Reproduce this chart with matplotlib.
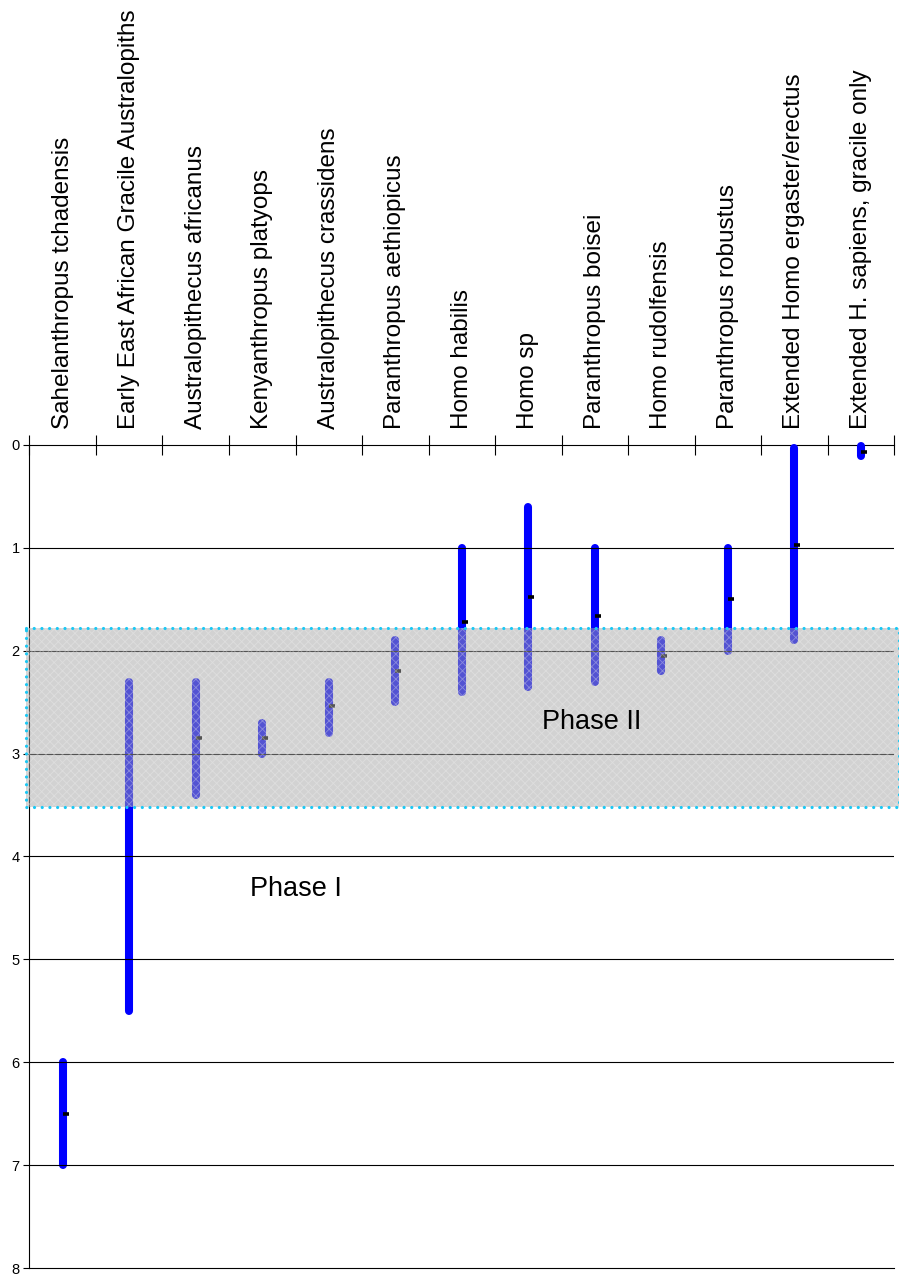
import numpy as np
import matplotlib
matplotlib.use('Agg')
import matplotlib.pyplot as plt
from matplotlib.patches import Rectangle

plt.rcParams['font.family'] = ['Liberation Sans', 'DejaVu Sans']

# ── Data (million years ago) ─────────────────────────────────────────────────
species = ['Sahelanthropus tchadensis',
           'Early East African Gracile Australopiths',
           'Australopithecus africanus',
           'Kenyanthropus platyops',
           'Australopithecus crassidens',
           'Paranthropus aethiopicus',
           'Homo habilis',
           'Homo sp',
           'Paranthropus boisei',
           'Homo rudolfensis',
           'Paranthropus robustus',
           'Extended Homo ergaster/erectus',
           'Extended H. sapiens, gracile only']
start_ma = [7.0, 5.5, 3.4, 3.0, 2.8, 2.5, 2.4, 2.35, 2.3, 2.2, 2.0, 1.9, 0.11]
end_ma   = [6.0, 2.3, 2.3, 2.7, 2.3, 1.9, 1.0, 0.6, 1.0, 1.9, 1.0, 0.03, 0.01]
mid_ma   = [6.5, np.nan, 2.85, 2.85, 2.54, 2.2, 1.72, 1.48, 1.66, 2.05, 1.5, 0.97, 0.07]

phase2_top, phase2_bottom = 1.78, 3.52
yticks = list(range(0, 9))

# ── Plot ─────────────────────────────────────────────────────────────────────
fig = plt.figure(figsize=(8.99, 12.79), dpi=100)
ax = fig.add_axes([0.0328, 0.0086, 0.9617, 0.6435])

x = np.arange(len(species))
ax.vlines(x, start_ma, end_ma, color='#0000ff', linewidth=5.8,
          capstyle='round', zorder=3, clip_on=False)
ax.plot(x + 0.045, mid_ma, linestyle='none', marker='_', markersize=5,
        markeredgewidth=2.6, color='black', zorder=4, clip_on=False)

# Phase II band (covers the bars so they look stippled)
band_kw = dict(xy=(-0.555, phase2_top), width=13.13,
               height=phase2_bottom - phase2_top, clip_on=False)
ax.add_patch(Rectangle(facecolor='#a6a6a6', alpha=0.5, linewidth=0,
                       zorder=5, **band_kw))
plt.rcParams['hatch.linewidth'] = 0.6
ax.add_patch(Rectangle(facecolor='none', edgecolor='#f4f4f4', hatch='xxxx',
                       linewidth=0, alpha=0.35, zorder=5, **band_kw))
border = Rectangle(facecolor='none', edgecolor='#19c8f5', linewidth=2.3,
                   linestyle=(0, (0.01, 2.4)), zorder=6, **band_kw)
border.set_capstyle('round')
ax.add_patch(border)

# gridlines
for yv in yticks[1:-1]:
    ax.axhline(yv, color='black', linewidth=0.8, zorder=4.5)

ax.text(3.5, 4.32, 'Phase I', fontsize=19.5, ha='center', va='center')
ax.text(7.95, 2.69, 'Phase II', fontsize=19.5, ha='center', va='center',
        zorder=7)

ax.set_xlim(-0.5, len(species) - 0.5)
ax.set_ylim(8, 0)
ax.set_yticks(yticks)
ax.tick_params(axis='y', labelsize=10.5, length=4, width=0.8, pad=3)

ax.set_xticks(np.arange(len(species) + 1) - 0.5)
ax.set_xticklabels([])
ax.xaxis.tick_top()
ax.tick_params(axis='x', direction='inout', length=14, width=0.8)
for i, name in enumerate(species):
    ax.text(i, 1.0 + 16 / 823, name, transform=ax.get_xaxis_transform(),
            rotation=90, ha='center', va='bottom', fontsize=17.5)

ax.spines['right'].set_visible(False)
for s in ['top', 'left', 'bottom']:
    ax.spines[s].set_linewidth(0.8)

plt.savefig('out.png', dpi=100)
plt.close()
